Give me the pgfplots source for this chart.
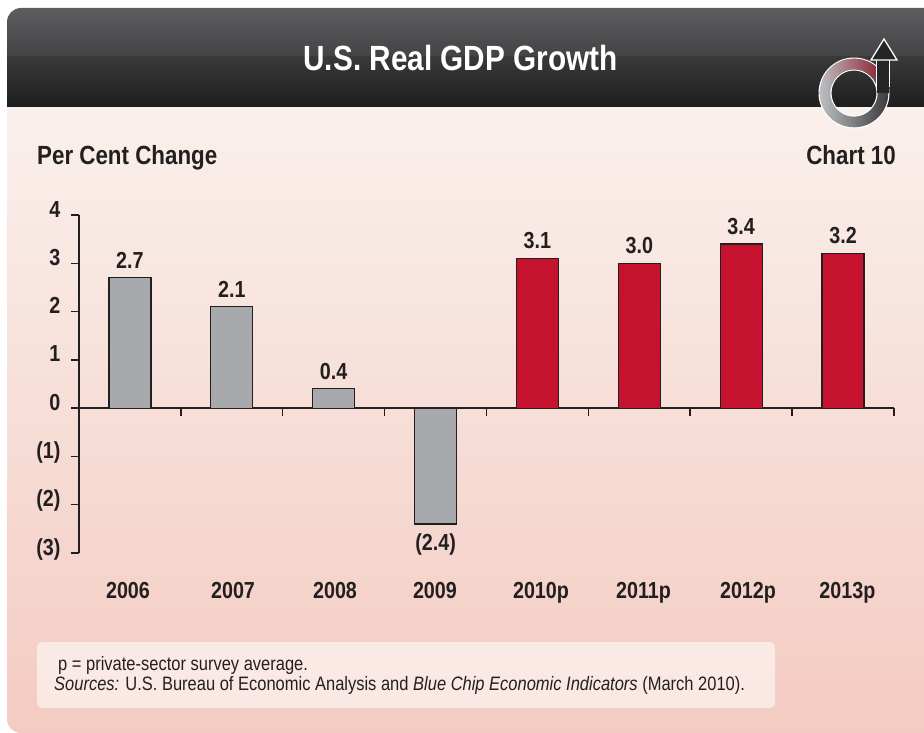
\documentclass[border=0pt]{standalone}
\usepackage{pgfplots}
\pgfplotsset{compat=1.18}
\usepackage{fontspec}
\setmainfont[FakeStretch=0.85]{Liberation Sans}
\definecolor{barg}{HTML}{A7A9AC}
\definecolor{barr}{HTML}{C4122F}
\definecolor{txt}{HTML}{231F20}
\definecolor{bodyt}{HTML}{FAF0EC}
\definecolor{bodyb}{HTML}{F3CBC1}
\definecolor{heada}{HTML}{5C5D5F}
\definecolor{headb}{HTML}{434345}
\definecolor{headc}{HTML}{39393A}
\definecolor{headd}{HTML}{1F1E1F}
\definecolor{logog}{HTML}{BFC0C3}
\definecolor{logod}{HTML}{3A3A3C}
\definecolor{logor}{HTML}{8E2A36}
\definecolor{stem}{HTML}{262526}
\begin{document}
\begin{tikzpicture}[x=1pt,y=1pt]
\path[use as bounding box] (0,0) rectangle (924,732);
\fill[white] (0,0) rectangle (924,732);
\begin{scope}
\clip (0,0) rectangle (924,732);
\clip[rounded corners=14pt] (7,-1) rectangle (945,724);
\shade[top color=bodyt,bottom color=bodyb] (0,-2) rectangle (924,625);
\shade[top color=heada,bottom color=headb] (0,675) rectangle (924,724);
\shade[top color=headc,bottom color=headd] (0,625) rectangle (924,675);
\end{scope}
\node[white,inner sep=0pt,font=\bfseries\fontsize{35}{38}\selectfont,anchor=center] at (460.5,674) {U.S. Real GDP Growth};
\node[txt,inner sep=0pt,font=\bfseries\fontsize{26.3}{30}\selectfont,anchor=base west] at (37,567) {Per Cent Change};
\node[txt,inner sep=0pt,font=\bfseries\fontsize{26.3}{30}\selectfont,anchor=base east] at (896,567) {Chart 10};
\fill[white,opacity=0.55,rounded corners=5pt] (37,24) rectangle (775,90);
\node[txt,inner sep=0pt,font=\fontsize{19.4}{22}\selectfont,anchor=base west] at (58,62) {p = private-sector survey average.};
\node[txt,inner sep=0pt,font=\fontsize{19.4}{22}\selectfont,anchor=base west] at (54,42) {\textit{Sources:} U.S. Bureau of Economic Analysis and \textit{Blue Chip Economic Indicators} (March 2010).};
\begin{axis}[
  at={(79pt,179pt)},
  anchor=south west,
  scale only axis,width=815pt,height=338pt,
  xmin=-0.5,xmax=7.5,ymin=-3,ymax=4,
  axis y line=left,axis x line=middle,
  axis line style={-,line width=1.5pt,txt},
  clip=false,
  xtick={-0.019,1.012,2.013,2.994,4.035,5.041,6.067,7.043},
  xticklabels={2006,2007,2008,2009,2010p,2011p,2012p,2013p},
  minor xtick={0.5,1.5,...,7.5},
  major x tick style={draw=none},
  minor tick length=8pt,
  tick align=outside,
  minor tick style={line width=1.5pt,txt},
  ytick={-3,...,4},
  yticklabels={(3),(2),(1),0,1,2,3,4},
  major tick length=8pt,
  y tick style={line width=1.3pt,txt},
  typeset ticklabels with strut=false,
  x tick label style={font=\bfseries\fontsize{23.2}{25}\selectfont,text=txt,anchor=base,yshift=-182pt},
  y tick label style={font=\bfseries\fontsize{23.2}{25}\selectfont,text=txt,anchor=base east,xshift=-7pt,yshift=-2pt},
  every axis plot/.append style={ybar,bar width=42pt,bar shift=0pt,draw=txt,line width=1.2pt},
  nodes near coords,point meta=explicit symbolic,
  nodes near coords style={font=\bfseries\fontsize{23.2}{25}\selectfont,text=txt,inner ysep=9pt},
]
\addplot[fill=barg] coordinates {(0,2.7)[2.7] (1,2.1)[2.1] (2,0.4)[0.4]};
\addplot[fill=barg,every node near coord/.append style={anchor=north}] coordinates {(3,-2.4)[(2.4)]};
\addplot[fill=barr] coordinates {(4,3.1)[3.1] (5,3.0)[3.0] (6,3.4)[3.4] (7,3.2)[3.2]};
\end{axis}
% logo
\fill[white,even odd rule] (854,639) circle (35.5) (854,639) circle (22.5);
\begin{scope}[even odd rule]
\clip (854,639) circle (34.3) (854,639) circle (23.7);
\shade[left color=logog,right color=logod] (819,604) rectangle (889,674);
\end{scope}
\begin{scope}[even odd rule]
\clip (854,639) circle (34.3) (854,639) circle (23.7);
\clip (810,648) -- (822,652) -- (854,639) -- (880,660) -- (880,690) -- (810,690) -- cycle;
\shade[left color=logog,right color=logor] (819,604) rectangle (878,674);
\end{scope}
\fill[white] (875.7,645) rectangle (890.3,672);
\fill[stem] (877,639) rectangle (888.5,673);
\filldraw[fill=stem,draw=white,line width=1.3pt,miter limit=6] (871,672) -- (884,693) -- (897,672) -- cycle;
\end{tikzpicture}
\end{document}
